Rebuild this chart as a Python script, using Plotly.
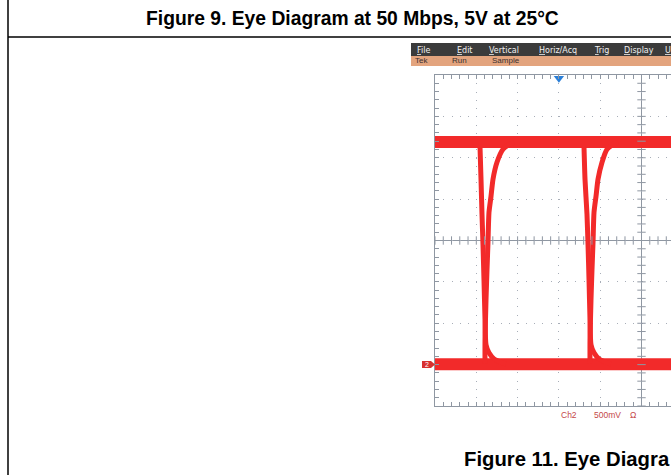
import numpy as np
import plotly.graph_objects as go

# ---------------- data (graticule divisions; 500 mV/div vertical) ----------------
high_level = 2.38
low_level = -2.99
band_x = [0.0, 5.72]

fall1_x = [1.090, 1.114, 1.138, 1.162, 1.186, 1.211, 1.235, 1.307, 1.429, 1.574, 1.719]
fall1_y = [2.255, 1.479, 0.630, -0.097, -0.945, -1.915, -2.521, -2.715, -2.861, -2.933, -2.982]
rise1_x = [1.211, 1.211, 1.235, 1.259, 1.283, 1.307, 1.356, 1.404, 1.501, 1.646, 1.768, 1.913]
rise1_y = [-2.982, -2.400, -1.430, -0.703, -0.048, 0.679, 1.067, 1.479, 1.891, 2.206, 2.303, 2.376]

fall2_x = [3.608, 3.632, 3.680, 3.705, 3.729, 3.753, 3.777, 3.850, 3.971, 4.116, 4.262]
fall2_y = [2.255, 1.479, 0.630, -0.097, -0.945, -1.915, -2.521, -2.715, -2.861, -2.933, -2.982]
rise2_x = [3.753, 3.753, 3.777, 3.801, 3.826, 3.850, 3.898, 3.947, 4.044, 4.165, 4.286, 4.431]
rise2_y = [-2.982, -2.400, -1.430, -0.703, -0.048, 0.679, 1.067, 1.479, 1.891, 2.206, 2.303, 2.376]

trigger_x = 3.0
menu_items = ["File", "Edit", "Vertical", "Horiz/Acq", "Trig", "Display", "U"]
status_items = ["Tek", "Run", "Sample"]
title_text = "Figure 9. Eye Diagram at 50 Mbps, 5V at 25°C"
next_caption = "Figure 11. Eye Diagra"

# ---------------- layout geometry ----------------
W, H = 671, 475
L, R, T, B = 435, 0, 75, 69
PW, PH = W - L - R, H - T - B


def px(x):
    return (x - L) / PW


def py(y):
    return (H - B - y) / PH


RED = "#f22a2a"
GRID = "#a8aeb8"
FRAME = "#8f97a2"

fig = go.Figure()

# bands
for lvl in (high_level, low_level):
    fig.add_trace(go.Scatter(x=band_x, y=[lvl, lvl], mode="lines",
                             line=dict(color=RED, width=12), hoverinfo="skip"))
# edges
for ex, ey in ((fall1_x, fall1_y), (rise1_x, rise1_y), (fall2_x, fall2_y), (rise2_x, rise2_y)):
    fig.add_trace(go.Scatter(x=ex, y=ey, mode="lines",
                             line=dict(color=RED, width=5, shape="spline", smoothing=0.6),
                             hoverinfo="skip"))

# center-line cross ticks
mx = np.arange(0, 5.72, 0.2)
my = np.arange(-4, 4.01, 0.2)
fig.add_trace(go.Scatter(x=mx, y=[0] * len(mx), mode="markers",
                         marker=dict(symbol="line-ns", size=6, line=dict(color=FRAME, width=1)),
                         hoverinfo="skip"))
fig.add_trace(go.Scatter(x=[5] * len(my), y=my, mode="markers",
                         marker=dict(symbol="line-ew", size=6, line=dict(color=FRAME, width=1)),
                         hoverinfo="skip"))
# trigger marker
fig.add_trace(go.Scatter(x=[trigger_x], y=[3.92], mode="markers", cliponaxis=False,
                         marker=dict(symbol="triangle-down", size=9, color="#2a7fd8"),
                         hoverinfo="skip"))

shapes = [
    dict(type="line", xref="x", yref="y", x0=5, x1=5, y0=-4, y1=4,
         line=dict(color=FRAME, width=1), layer="below"),
    dict(type="line", xref="x", yref="y", x0=0, x1=5.72, y0=0, y1=0,
         line=dict(color=FRAME, width=1), layer="below"),
    # menu bar and status bar
    dict(type="rect", xref="paper", yref="paper", x0=px(411), x1=px(672), y0=py(56), y1=py(43),
         fillcolor="#3b3b3b", line=dict(width=0)),
    dict(type="rect", xref="paper", yref="paper", x0=px(411), x1=px(672), y0=py(66), y1=py(56),
         fillcolor="#e3a47e", line=dict(width=0)),
    # page frame lines
    dict(type="line", xref="paper", yref="paper", x0=px(8), x1=px(8), y0=py(0), y1=py(475),
         line=dict(color="black", width=1.5)),
    dict(type="line", xref="paper", yref="paper", x0=px(8), x1=px(672), y0=py(37), y1=py(37),
         line=dict(color="black", width=1.5)),
    # channel 2 ground marker
    dict(type="rect", xref="paper", yref="paper", x0=px(422), x1=px(431), y0=py(368), y1=py(361),
         fillcolor="#d83030", line=dict(width=0)),
    dict(type="path", xref="paper", yref="paper",
         path=f"M {px(431)} {py(361)} L {px(435)} {py(364.5)} L {px(431)} {py(368)} Z",
         fillcolor="#d83030", line=dict(width=0)),
]

annotations = [
    dict(text=f"<b>{title_text}</b>", xref="paper", yref="paper", x=px(352), y=py(18),
         showarrow=False, font=dict(family="Liberation Sans, Arial", size=19.3, color="black"),
         xanchor="center", yanchor="middle"),
    dict(text=f"<b>{next_caption}</b>", xref="paper", yref="paper", x=px(462), y=py(459),
         showarrow=False, font=dict(family="Liberation Sans, Arial", size=20.3, color="black"),
         xanchor="left", yanchor="middle"),
    dict(text="2", xref="paper", yref="paper", x=px(426.5), y=py(364.5), showarrow=False,
         font=dict(family="Liberation Sans, Arial", size=7, color="white"),
         xanchor="center", yanchor="middle"),
    dict(text="Ch2", xref="paper", yref="paper", x=px(559), y=py(415), showarrow=False,
         font=dict(family="Liberation Sans, Arial", size=8.5, color="#c44848"),
         xanchor="left", yanchor="middle"),
    dict(text="500mV", xref="paper", yref="paper", x=px(592), y=py(415), showarrow=False,
         font=dict(family="Liberation Sans, Arial", size=8.5, color="#c44848"),
         xanchor="left", yanchor="middle"),
    dict(text="Ω", xref="paper", yref="paper", x=px(628), y=py(415), showarrow=False,
         font=dict(family="Liberation Sans, Arial", size=8.5, color="#c44848"),
         xanchor="left", yanchor="middle"),
]

menu_x = [415, 455, 487, 537, 592, 622, 663]
for label, x0 in zip(menu_items, menu_x):
    annotations.append(dict(text=f"<u>{label[0]}</u>{label[1:]}", xref="paper", yref="paper",
                            x=px(x0), y=py(50), showarrow=False, xanchor="left", yanchor="middle",
                            font=dict(family="DejaVu Sans, Arial", size=8, color="#f0f0f0")))
status_x = [413, 450, 490]
for label, x0 in zip(status_items, status_x):
    annotations.append(dict(text=label, xref="paper", yref="paper",
                            x=px(x0), y=py(61), showarrow=False, xanchor="left", yanchor="middle",
                            font=dict(family="Liberation Sans, Arial", size=8, color="#3a3030")))

fig.update_layout(
    width=W, height=H,
    margin=dict(l=L, r=R, t=T, b=B, pad=0),
    paper_bgcolor="white", plot_bgcolor="white",
    showlegend=False,
    shapes=shapes, annotations=annotations,
    xaxis=dict(range=[0, 5.714], dtick=1, tick0=0, showticklabels=False,
               showgrid=True, gridcolor=GRID, gridwidth=1, griddash="1px,7.26px",
               ticks="inside", ticklen=4, tickcolor=FRAME,
               showline=True, linecolor=FRAME, linewidth=1, mirror="ticks",
               minor=dict(dtick=0.2, ticks="inside", ticklen=4, tickcolor=FRAME, showgrid=False),
               zeroline=False, fixedrange=True),
    yaxis=dict(range=[-4, 4], dtick=1, tick0=0, showticklabels=False,
               showgrid=True, gridcolor=GRID, gridwidth=1, griddash="1px,7.26px",
               ticks="inside", ticklen=4, tickcolor=FRAME,
               showline=True, linecolor=FRAME, linewidth=1,
               minor=dict(dtick=0.2, ticks="inside", ticklen=4, tickcolor=FRAME, showgrid=False),
               zeroline=False, fixedrange=True),
)

fig.write_html("out.html", config={"displayModeBar": False},
               post_script="document.body.style.margin='0';document.body.style.overflow='hidden';")
